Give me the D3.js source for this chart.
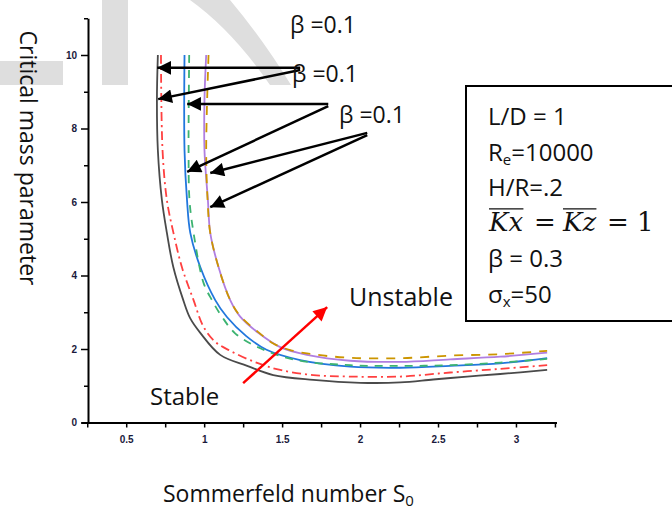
<!DOCTYPE html>
<html lang="en">
<head>
    <meta charset="UTF-8">
    <title>Critical mass parameter vs Sommerfeld number</title>
    <script src="https://d3js.org/d3.v7.min.js"></script>
    <style>
        body { margin: 0; background: #fff; }
        text { font-family: "Open Sans", sans-serif; fill: #111; }
        .tick text { font-family: "Liberation Sans", sans-serif; font-weight: bold; font-size: 10px; fill: #1a1a3c; }
        .curve { fill: none; stroke-width: 1.8px; }
    </style>
</head>
<body>
    <div id="chart"></div>
    <script>
        // curves: S0 (x) and critical mass (y)
        var blackX = [0.703, 0.697, 0.703, 0.729, 0.761, 0.802, 0.866, 0.91, 0.975, 1.103, 1.276, 1.443, 1.7, 2.001, 2.258, 2.469, 2.687, 2.899, 3.2];
        var blackY = [10, 8.77, 7.41, 6.05, 5.16, 4.23, 3.33, 2.84, 2.44, 1.84, 1.54, 1.29, 1.16, 1.08, 1.09, 1.17, 1.25, 1.32, 1.43];
        var redX = [0.723, 0.733, 0.761, 0.803, 0.857, 0.932, 0.994, 1.07, 1.167, 1.34, 1.488, 1.7, 1.937, 2.258, 2.578, 2.899, 3.2];
        var redY = [10, 7.41, 6.05, 5.16, 4.23, 3.33, 2.62, 2.2, 1.95, 1.62, 1.43, 1.29, 1.25, 1.25, 1.36, 1.46, 1.56];
        var blueX = [0.874, 0.874, 0.89, 0.911, 0.975, 1.071, 1.146, 1.27, 1.4, 1.616, 1.937, 2.258, 2.578, 2.899, 3.2];
        var blueY = [10, 7.41, 6.05, 5.16, 4.23, 3.33, 2.87, 2.35, 1.98, 1.7, 1.52, 1.49, 1.54, 1.61, 1.75];
        var greenX = [0.904, 0.9, 0.906, 0.932, 0.996, 1.05, 1.114, 1.2, 1.36, 1.59, 1.937, 2.258, 2.578, 2.899, 3.2];
        var greenY = [10, 7.41, 6.05, 5.16, 3.8, 3.33, 2.88, 2.42, 2.02, 1.7, 1.56, 1.54, 1.56, 1.63, 1.73];
        var purpleX = [1.013, 1.002, 1.002, 1.024, 1.039, 1.092, 1.167, 1.231, 1.347, 1.488, 1.659, 1.937, 2.258, 2.578, 2.899, 3.2];
        var purpleY = [10, 8.78, 7.41, 6.05, 5.16, 4.23, 3.33, 2.88, 2.44, 2.05, 1.84, 1.68, 1.65, 1.72, 1.79, 1.9];
        var orangeX = [1.028, 1.013, 1.022, 1.039, 1.092, 1.167, 1.231, 1.347, 1.443, 1.552, 1.693, 1.937, 2.258, 2.578, 2.899, 3.2];
        var orangeY = [10, 7.41, 6.05, 5.16, 4.23, 3.33, 2.9, 2.46, 2.15, 1.97, 1.86, 1.76, 1.75, 1.82, 1.86, 1.95];

        var xTicks = d3.range(0.25, 3.26, 0.25);
        var xLabels = ["0.5", "1", "1.5", "2", "2.5", "3"];
        var yTicks = d3.range(0, 12);
        var yLabels = ["0", "2", "4", "6", "8", "10"];

        var paramLines = ["L/D = 1", "Re=10000", "H/R=.2", "Kx=Kz=1", "β = 0.3", "σx=50"];
        var betaLabel = "β =0.1";

        var width = 672, height = 509;
        var svg = d3.select("#chart").append("svg")
            .attr("width", width)
            .attr("height", height);

        var x = d3.scaleLinear().domain([0.21, 3.26]).range([81, 556.5]);
        var y = d3.scaleLinear().domain([0, 11]).range([422.5, 18.25]);

        // faint watermark behind the plot
        var wm = svg.append("g").attr("fill", "#dedede");
        wm.append("rect").attr("x", 0).attr("y", 61).attr("width", 63).attr("height", 24);
        wm.append("rect").attr("x", 102).attr("y", 0).attr("width", 26).attr("height", 85);
        wm.append("path").attr("d", "M190,0 L230,0 Q262,38 291,85 L270,85 Q232,30 190,0 Z");

        // x axis
        var xAxis = svg.append("g")
            .attr("transform", "translate(0," + y(0) + ")")
            .call(d3.axisBottom(x).tickValues(xTicks).tickSize(5).tickSizeOuter(0)
                .tickFormat(function(d) {
                    var s = d3.format("")(+d.toFixed(2));
                    return xLabels.indexOf(s) >= 0 ? s : "";
                }));
        xAxis.select(".domain").attr("stroke-width", 2);
        xAxis.selectAll(".tick line").attr("stroke-width", 1.5);
        xAxis.selectAll(".tick text").attr("dy", "1.25em");

        // y axis
        var yAxis = svg.append("g")
            .attr("transform", "translate(88,0)")
            .call(d3.axisLeft(y).tickValues(yTicks).tickSize(7).tickSizeOuter(0)
                .tickFormat(function(d) { return yLabels.indexOf(String(d)) >= 0 ? d : ""; }));
        yAxis.select(".domain").attr("stroke-width", 2);
        yAxis.selectAll(".tick line")
            .attr("stroke-width", 1.5)
            .attr("x2", function(d) { return d % 2 ? -4 : -7; });
        yAxis.selectAll(".tick text").attr("x", -11).attr("font-size", "9px");

        // axis titles
        svg.append("text")
            .attr("transform", "translate(20,158) rotate(90)")
            .attr("text-anchor", "middle")
            .attr("font-size", "23px")
            .text("Critical mass parameter");

        var xt = svg.append("text")
            .attr("x", 163).attr("y", 502)
            .attr("font-size", "23px");
        xt.append("tspan").text("Sommerfeld number S");
        xt.append("tspan").attr("font-size", "15px").attr("dy", 4).text("0");

        // curves
        var series = [
            { xs: blackX, ys: blackY, color: "#4a4a4a", dash: null },
            { xs: redX, ys: redY, color: "#ff4040", dash: "9,4,2,4" },
            { xs: blueX, ys: blueY, color: "#2277dd", dash: null },
            { xs: greenX, ys: greenY, color: "#3cb371", dash: "8,7" },
            { xs: purpleX, ys: purpleY, color: "#b07ee0", dash: null },
            { xs: orangeX, ys: orangeY, color: "#cc9500", dash: "9,8" }
        ];

        var line = d3.line()
            .x(function(d) { return x(d[0]); })
            .y(function(d) { return y(d[1]); })
            .curve(d3.curveCatmullRom.alpha(0.5));

        svg.selectAll(".curve")
            .data(series)
            .enter().append("path")
            .attr("class", "curve")
            .attr("stroke", function(d) { return d.color; })
            .attr("stroke-dasharray", function(d) { return d.dash; })
            .attr("d", function(d) { return line(d.xs.map(function(v, i) { return [v, d.ys[i]]; })); });

        // arrow heads
        var defs = svg.append("defs");
        function marker(id, color) {
            defs.append("marker")
                .attr("id", id)
                .attr("viewBox", "0 0 10 10")
                .attr("refX", 10).attr("refY", 5)
                .attr("markerWidth", 6.5).attr("markerHeight", 5.5)
                .attr("markerUnits", "strokeWidth")
                .attr("orient", "auto")
                .append("path").attr("d", "M0,0 L10,5 L0,10 Z").attr("fill", color);
        }
        marker("headBlack", "#000");
        marker("headRed", "#f00");

        // annotation arrows (from label to curve, in data units)
        var arrowFrom = [[1.616, 9.65], [1.616, 9.59], [1.796, 8.67], [1.796, 8.61], [2.046, 7.88], [2.046, 7.82]];
        var arrowTo = [[0.699, 9.65], [0.705, 8.8], [0.891, 8.67], [0.891, 6.82], [1.039, 6.79], [1.039, 5.86]];

        svg.selectAll(".arrow")
            .data(arrowFrom)
            .enter().append("line")
            .attr("class", "arrow")
            .attr("x1", function(d) { return x(d[0]); })
            .attr("y1", function(d) { return y(d[1]); })
            .attr("x2", function(d, i) { return x(arrowTo[i][0]); })
            .attr("y2", function(d, i) { return y(arrowTo[i][1]); })
            .attr("stroke", "#000")
            .attr("stroke-width", 2.5)
            .attr("marker-end", "url(#headBlack)");

        svg.append("line")
            .attr("x1", x(1.25)).attr("y1", y(1.07))
            .attr("x2", x(1.789)).attr("y2", y(3.14))
            .attr("stroke", "#f00")
            .attr("stroke-width", 2.5)
            .attr("marker-end", "url(#headRed)");

        // beta labels
        svg.append("text").attr("x", 290).attr("y", 33).attr("font-size", "23px").text(betaLabel);
        svg.append("text").attr("x", 292).attr("y", 82).attr("font-size", "23px").text(betaLabel);
        svg.append("text").attr("x", 339).attr("y", 123).attr("font-size", "23px").text(betaLabel);

        svg.append("text").attr("x", 349).attr("y", 306).attr("font-size", "25px").text("Unstable");
        svg.append("text").attr("x", 150).attr("y", 405).attr("font-size", "24px").text("Stable");

        // parameter box
        svg.append("rect")
            .attr("x", 466).attr("y", 86)
            .attr("width", 220).attr("height", 235)
            .attr("fill", "#fff")
            .attr("stroke", "#000")
            .attr("stroke-width", 2);

        var bx = 488, by = 125, step = 35.6;
        var t;
        svg.append("text").attr("x", bx).attr("y", by).attr("font-size", "24px").text(paramLines[0]);

        t = svg.append("text").attr("x", bx).attr("y", by + step).attr("font-size", "24px");
        t.append("tspan").text("R");
        t.append("tspan").attr("font-size", "15px").attr("dy", 4).text("e");
        t.append("tspan").attr("dy", -4).text("=10000");

        svg.append("text").attr("x", bx).attr("y", by + 2 * step).attr("font-size", "24px").text(paramLines[2]);

        // Kx = Kz = 1 in math italic with overbars
        var mathY = by + 3 * step - 1;
        t = svg.append("text").attr("y", mathY)
            .attr("font-size", "26px")
            .style("font-family", "'DejaVu Serif', serif");
        var mathParts = [["Kx", bx + 1, true], ["=", bx + 46, false], ["Kz", bx + 75, true], ["=", bx + 119, false], ["1", bx + 149, false]];
        mathParts.forEach(function(p) {
            var s = t.append("tspan").attr("x", p[1]).text(p[0]);
            if (p[2]) s.style("font-style", "italic");
        });
        t.selectAll("tspan").each(function() {
            if (this.textContent.length === 2) {
                var b = this.getBBox();
                svg.append("line")
                    .attr("x1", b.x + 1).attr("x2", b.x + b.width)
                    .attr("y1", mathY - 22).attr("y2", mathY - 22)
                    .attr("stroke", "#111").attr("stroke-width", 1.2);
            }
        });

        svg.append("text").attr("x", bx).attr("y", by + 4 * step).attr("font-size", "24px").text(paramLines[4]);

        t = svg.append("text").attr("x", bx).attr("y", by + 5 * step).attr("font-size", "24px");
        t.append("tspan").text("σ");
        t.append("tspan").attr("font-size", "15px").attr("dy", 4).text("x");
        t.append("tspan").attr("dy", -4).text("=50");
    </script>
</body>
</html>
